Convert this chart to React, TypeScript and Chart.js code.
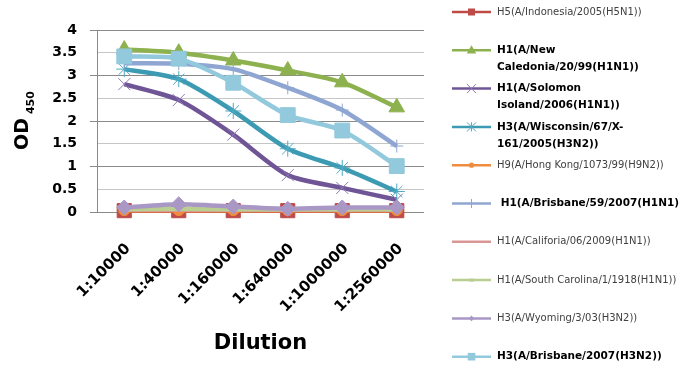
import React, { useEffect, useRef } from 'react';
import { Chart, registerables } from 'chart.js';

Chart.register(...registerables);

// ---------- data ----------
const dilutions = ['1:10000', '1:40000', '1:160000', '1:640000', '1:1000000', '1:2560000'];

const h5Indonesia = [0.03, 0.03, 0.03, 0.03, 0.03, 0.03];
const h1NewCaledonia = [3.57, 3.5, 3.33, 3.11, 2.85, 2.3];
const h1Solomon = [2.81, 2.46, 1.7, 0.81, 0.53, 0.27];
const h3Wisconsin = [3.14, 2.92, 2.22, 1.39, 0.97, 0.45];
const h9HongKong = [0.04, 0.04, 0.04, 0.04, 0.04, 0.04];
const h1Brisbane59 = [3.27, 3.26, 3.14, 2.73, 2.24, 1.45];
const h1California = [0.05, 0.05, 0.05, 0.05, 0.05, 0.05];
const h1SouthCarolina = [0.06, 0.07, 0.06, 0.06, 0.06, 0.06];
const h3Wyoming = [0.1, 0.17, 0.12, 0.07, 0.1, 0.1];
const h3Brisbane2007 = [3.42, 3.37, 2.84, 2.13, 1.79, 1.01];

const labelH5 = ['H5(A/Indonesia/2005(H5N1))'];
const labelNewCaledonia = ['H1(A/New', 'Caledonia/20/99(H1N1))'];
const labelSolomon = ['H1(A/Solomon', 'Isoland/2006(H1N1))'];
const labelWisconsin = ['H3(A/Wisconsin/67/X-', '161/2005(H3N2))'];
const labelH9 = ['H9(A/Hong Kong/1073/99(H9N2))'];
const labelBrisbane59 = [' H1(A/Brisbane/59/2007(H1N1))'];
const labelCalifornia = ['H1(A/Califoria/06/2009(H1N1))'];
const labelSouthCarolina = ['H1(A/South Carolina/1/1918(H1N1))'];
const labelWyoming = ['H3(A/Wyoming/3/03(H3N2))'];
const labelBrisbane2007 = ['H3(A/Brisbane/2007(H3N2))'];

const yTitleMain = 'OD';
const yTitleSub = '450';
const xTitle = 'Dilution';

// ---------- styles ----------
type Series = {
  label: string[];
  data: number[];
  color: string;
  markerColor: string;
  style: string;
  radius: number;
  legendStyle: string;
  legendSize: number;
  bold: boolean;
};

const series: Series[] = [
  { label: labelH5, data: h5Indonesia, color: '#BE4B48', markerColor: '#BE4B48', style: 'rect', radius: 10, legendStyle: 'rect', legendSize: 3.5, bold: false },
  { label: labelNewCaledonia, data: h1NewCaledonia, color: '#8DB14E', markerColor: '#8DB14E', style: 'triangle', radius: 9, legendStyle: 'triangle', legendSize: 5, bold: true },
  { label: labelSolomon, data: h1Solomon, color: '#6F5496', markerColor: '#8F7AB8', style: 'crossRot', radius: 8.5, legendStyle: 'crossRot', legendSize: 4.5, bold: true },
  { label: labelWisconsin, data: h3Wisconsin, color: '#3C9BB3', markerColor: '#4FA9C2', style: 'star', radius: 8, legendStyle: 'star', legendSize: 4.5, bold: true },
  { label: labelH9, data: h9HongKong, color: '#F08C3E', markerColor: '#F08C3E', style: 'circle', radius: 5.5, legendStyle: 'circle', legendSize: 2.6, bold: false },
  { label: labelBrisbane59, data: h1Brisbane59, color: '#8FA6D2', markerColor: '#8FA6D2', style: 'cross', radius: 6.5, legendStyle: 'cross', legendSize: 4.5, bold: true },
  { label: labelCalifornia, data: h1California, color: '#D99694', markerColor: '#D99694', style: 'circle', radius: 0, legendStyle: 'none', legendSize: 0, bold: false },
  { label: labelSouthCarolina, data: h1SouthCarolina, color: '#B9CF90', markerColor: '#B9CF90', style: 'circle', radius: 0, legendStyle: 'dash', legendSize: 2.5, bold: false },
  { label: labelWyoming, data: h3Wyoming, color: '#A998C6', markerColor: '#A998C6', style: 'rectRot', radius: 7.5, legendStyle: 'rectRot', legendSize: 2.8, bold: false },
  { label: labelBrisbane2007, data: h3Brisbane2007, color: '#93C9DC', markerColor: '#93C9DC', style: 'rect', radius: 10.5, legendStyle: 'rect', legendSize: 3.8, bold: true },
];

const FONT = '"DejaVu Sans", sans-serif';

function drawMarker(ctx: CanvasRenderingContext2D, style: string, x: number, y: number, r: number, color: string) {
  ctx.save();
  ctx.fillStyle = color;
  ctx.strokeStyle = color;
  ctx.lineWidth = 1;
  ctx.beginPath();
  switch (style) {
    case 'rect':
      ctx.rect(x - r, y - r, 2 * r, 2 * r);
      ctx.fill();
      break;
    case 'triangle':
      ctx.moveTo(x, y - r);
      ctx.lineTo(x + r * 0.95, y + r * 0.65);
      ctx.lineTo(x - r * 0.95, y + r * 0.65);
      ctx.closePath();
      ctx.fill();
      break;
    case 'crossRot':
      ctx.moveTo(x - r, y - r);
      ctx.lineTo(x + r, y + r);
      ctx.moveTo(x + r, y - r);
      ctx.lineTo(x - r, y + r);
      ctx.stroke();
      break;
    case 'star':
      ctx.moveTo(x - r, y - r);
      ctx.lineTo(x + r, y + r);
      ctx.moveTo(x + r, y - r);
      ctx.lineTo(x - r, y + r);
      ctx.moveTo(x, y - r);
      ctx.lineTo(x, y + r);
      ctx.stroke();
      break;
    case 'cross':
      ctx.moveTo(x, y - r);
      ctx.lineTo(x, y + r);
      ctx.stroke();
      break;
    case 'circle':
      ctx.arc(x, y, r, 0, Math.PI * 2);
      ctx.fill();
      break;
    case 'rectRot':
      ctx.moveTo(x, y - r);
      ctx.lineTo(x + r, y);
      ctx.lineTo(x, y + r);
      ctx.lineTo(x - r, y);
      ctx.closePath();
      ctx.fill();
      break;
    case 'dash':
      ctx.rect(x - r, y - 1.5, 2 * r, 3);
      ctx.fill();
      break;
    default:
      break;
  }
  ctx.restore();
}

const overlayPlugin = {
  id: 'overlay',
  afterDraw(chart: any) {
    const ctx: CanvasRenderingContext2D = chart.ctx;
    // Y axis title with subscript
    ctx.save();
    ctx.fillStyle = '#000';
    ctx.translate(28, 150);
    ctx.rotate(-Math.PI / 2);
    ctx.textAlign = 'left';
    ctx.textBaseline = 'alphabetic';
    ctx.font = `bold 19px ${FONT}`;
    ctx.fillText(yTitleMain, 0, 0);
    const w = ctx.measureText(yTitleMain).width;
    ctx.font = `bold 11px ${FONT}`;
    ctx.fillText(yTitleSub, w + 4, 6);
    ctx.restore();

    // Legend
    const lineX0 = 452;
    const lineX1 = 491;
    const textX = 497;
    const startY = 12;
    const step = 38.3;
    series.forEach((s, i) => {
      const y = startY + i * step;
      ctx.save();
      ctx.strokeStyle = s.color;
      ctx.lineWidth = 2.5;
      ctx.beginPath();
      ctx.moveTo(lineX0, y);
      ctx.lineTo(lineX1, y);
      ctx.stroke();
      ctx.restore();
      drawMarker(ctx, s.legendStyle, (lineX0 + lineX1) / 2, y, s.legendSize, s.markerColor);
      ctx.save();
      ctx.textAlign = 'left';
      ctx.textBaseline = 'middle';
      if (s.bold) {
        ctx.font = `bold 10.5px ${FONT}`;
        ctx.fillStyle = '#000';
      } else {
        ctx.font = `10px ${FONT}`;
        ctx.fillStyle = '#404040';
      }
      s.label.forEach((line, j) => {
        ctx.fillText(line, textX, y + j * 17);
      });
      ctx.restore();
    });
  },
};

export default function App() {
  const ref = useRef<HTMLCanvasElement>(null);

  useEffect(() => {
    const canvas = ref.current;
    if (!canvas) return;
    const n = series.length;
    const chart = new Chart(canvas, {
      type: 'line',
      data: {
        labels: dilutions,
        datasets: series.map((s, i) => ({
          label: s.label.join(' '),
          data: s.data,
          borderColor: s.color,
          backgroundColor: s.markerColor,
          borderWidth: 4.5,
          tension: 0.25,
          pointStyle: s.style as any,
          pointRadius: s.radius,
          pointHoverRadius: s.radius,
          pointBackgroundColor: s.markerColor,
          pointBorderColor: s.markerColor,
          pointBorderWidth: 1,
          fill: false,
          clip: false as any,
          order: n - i,
        })),
      },
      options: {
        responsive: false,
        animation: false,
        devicePixelRatio: 1,
        layout: { padding: { left: 0, top: 30, right: 256, bottom: 0 } },
        plugins: {
          legend: { display: false },
          tooltip: { enabled: false },
        },
        scales: {
          x: {
            offset: true,
            grid: { display: false },
            border: { display: false },
            ticks: {
              minRotation: 45,
              maxRotation: 45,
              padding: 20,
              labelOffset: 4,
              color: '#000',
              font: { family: FONT, weight: 'bold', size: 15 },
            },
            title: {
              display: true,
              text: xTitle,
              color: '#000',
              font: { family: FONT, weight: 'bold', size: 21 },
              padding: { top: 0, bottom: 17 },
            },
            afterFit: (scale: any) => {
              scale.height = 161;
            },
          },
          y: {
            min: 0,
            max: 4,
            ticks: {
              stepSize: 0.5,
              padding: 13,
              color: '#000',
              font: { family: FONT, weight: 'bold', size: 14 },
              callback: (v: any) => String(Math.round(Number(v) * 10) / 10),
            },
            grid: {
              color: (c: any) => (c.tick && c.tick.value % 1 === 0 ? '#8a8a8a' : '#c6c6c6'),
              tickColor: (c: any) => (c.tick && c.tick.value % 1 === 0 ? '#8a8a8a' : 'rgba(0,0,0,0)'),
              tickLength: 7,
              lineWidth: 1,
            },
            border: { display: true, color: '#8a8a8a', width: 1 },
            afterFit: (scale: any) => {
              scale.width = 97;
            },
          },
        },
      },
      plugins: [overlayPlugin],
    });
    return () => chart.destroy();
  }, []);

  return (
    <div style={{ position: 'absolute', left: 0, top: 0, width: 680, height: 373, background: '#ffffff' }}>
      <canvas ref={ref} width={680} height={373} style={{ display: 'block', width: 680, height: 373 }} />
    </div>
  );
}
